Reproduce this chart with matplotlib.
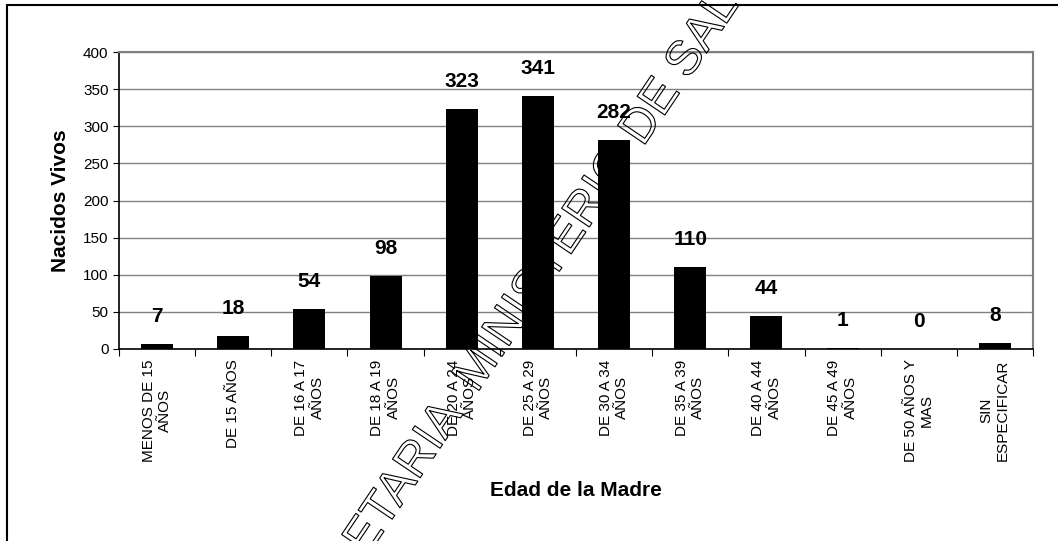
import matplotlib.pyplot as plt
import matplotlib.patheffects as pe
from matplotlib.patches import Rectangle
import numpy as np

plt.rcParams['font.family'] = ['Liberation Sans', 'DejaVu Sans']

# Nacidos vivos por edad de la madre
categorias = ['MENOS DE 15\nAÑOS', 'DE 15 AÑOS', 'DE 16 A 17\nAÑOS', 'DE 18 A 19\nAÑOS',
              'DE 20 A 24\nAÑOS', 'DE 25 A 29\nAÑOS', 'DE 30 A 34\nAÑOS', 'DE 35 A 39\nAÑOS',
              'DE 40 A 44\nAÑOS', 'DE 45 A 49\nAÑOS', 'DE 50 AÑOS Y\nMAS', 'SIN\nESPECIFICAR']
nacidos = [7, 18, 54, 98, 323, 341, 282, 110, 44, 1, 0, 8]
yticks = [0, 50, 100, 150, 200, 250, 300, 350, 400]

W, H = 1058, 541
fig = plt.figure(figsize=(W / 100, H / 100), dpi=100)
ax = fig.add_axes([119 / W, 1 - 349 / H, (1033 - 119) / W, (349 - 52) / H])

x = np.arange(len(categorias))
ax.bar(x, nacidos, width=0.42, color='black', zorder=3)

for xi, v in zip(x, nacidos):
    ax.annotate(str(v), (xi, v), xytext=(0, 13), textcoords='offset points',
                ha='center', va='bottom', fontsize=15, fontweight='bold', zorder=4)

ax.set_xlim(-0.5, len(categorias) - 0.5)
ax.set_ylim(0, 400)
ax.set_yticks(yticks)
ax.tick_params(axis='y', labelsize=11, length=4, direction='out')
ax.grid(axis='y', color='#808080', linewidth=1, zorder=0)

# ticks between categories, labels at category centres
ax.set_xticks(np.arange(len(categorias) + 1) - 0.5)
ax.set_xticklabels([])
ax.tick_params(axis='x', length=5, direction='out')
for xi, lab in zip(x, categorias):
    ax.text(xi, -14, lab, rotation=90, ha='center', va='top', fontsize=11,
            multialignment='center', transform=ax.transData)

for s in ['top', 'right']:
    ax.spines[s].set_color('#808080')
    ax.spines[s].set_linewidth(1.5)
for s in ['left', 'bottom']:
    ax.spines[s].set_color('black')
    ax.spines[s].set_linewidth(1.2)

fig.text(60 / W, 1 - 201 / H, 'Nacidos Vivos', rotation=90, ha='center', va='center',
         fontsize=15, fontweight='bold')
fig.text(576 / W, 1 - 490 / H, 'Edad de la Madre', ha='center', va='center',
         fontsize=15, fontweight='bold')

# marco exterior
fig.patches.append(Rectangle((7 / W, -0.1), 1.2, 1.1 - 5 / H, transform=fig.transFigure,
                             fill=False, edgecolor='black', linewidth=1.5))

# marca de agua
fig.text(525 / W, 1 - 300 / H, 'SECRETARIA  MINISTERIO DE SALUD', rotation=56,
         ha='center', va='center', fontsize=35, color='none', zorder=10,
         path_effects=[pe.Stroke(linewidth=0.8, foreground='black')])

fig.savefig('out.png', dpi=100)
